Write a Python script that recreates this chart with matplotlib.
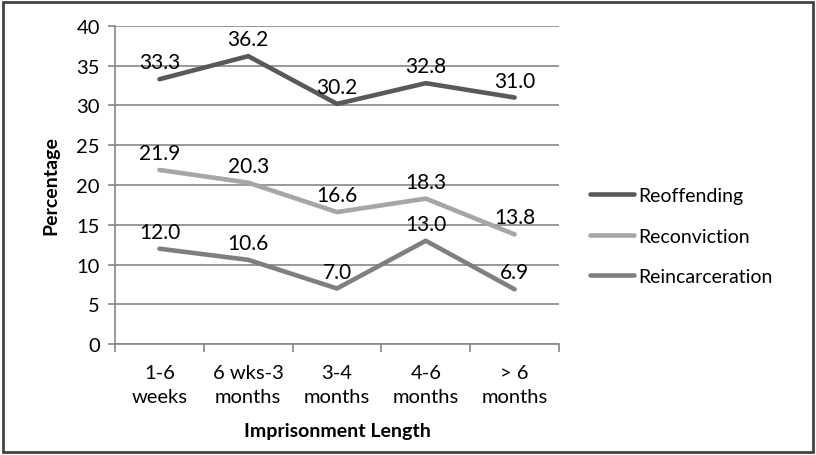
import matplotlib.pyplot as plt
import numpy as np

plt.rcParams['font.family'] = ['Lato', 'DejaVu Sans']

# imprisonment length categories
categories = ["1-6\nweeks", "6 wks-3\nmonths", "3-4\nmonths", "4-6\nmonths", "> 6\nmonths"]

# percentages per outcome
reoffending = [33.3, 36.2, 30.2, 32.8, 31.0]
reconviction = [21.9, 20.3, 16.6, 18.3, 13.8]
reincarceration = [12.0, 10.6, 7.0, 13.0, 6.9]

series = [
    ("Reoffending", reoffending, "#595959"),
    ("Reconviction", reconviction, "#a6a6a6"),
    ("Reincarceration", reincarceration, "#7f7f7f"),
]

fig = plt.figure(figsize=(8.16, 4.56), dpi=100)
ax = fig.add_axes([0.141, 0.243, 0.544, 0.698])

x = np.arange(len(categories))
for name, vals, col in series:
    ax.plot(x, vals, color=col, lw=3.3, label=name, solid_capstyle="round")
    for xi, v in zip(x, vals):
        ax.annotate(f"{v:.1f}", (xi, v), xytext=(0, 5), textcoords="offset points",
                    ha="center", va="bottom", fontsize=15, color="black")

ax.set_xlim(-0.5, len(categories) - 0.5)
ax.set_ylim(0, 40)
ax.set_yticks(range(0, 41, 5))
ax.set_xticks(np.arange(-0.5, len(categories), 1.0))
ax.set_xticklabels([])
ax.set_xticks(x, minor=True)
ax.set_xticklabels(categories, minor=True, fontsize=14.5, linespacing=1.55)
ax.tick_params(axis="x", which="minor", length=0, pad=14)
ax.tick_params(axis="x", which="major", length=6, color="#868686", width=1.2)
ax.tick_params(axis="y", length=5, color="#868686", width=1.2, labelsize=14.5, pad=6)
ax.grid(axis="y", color="#868686", lw=1.2)
ax.set_axisbelow(True)
for s in ["top", "right"]:
    ax.spines[s].set_visible(False)
for s in ["left", "bottom"]:
    ax.spines[s].set_color("#868686")
    ax.spines[s].set_linewidth(1.2)

ax.set_ylabel("Percentage", fontsize=14, fontweight="bold", labelpad=12)
ax.set_xlabel("Imprisonment Length", fontsize=14, fontweight="bold", labelpad=12)

fig.legend(*ax.get_legend_handles_labels(), loc="center left",
           bbox_to_anchor=(0.701, 0.48), frameon=False,
           fontsize=14, handlelength=2.3, handletextpad=0.2, labelspacing=1.2)

# outer border like the chart frame
fig.patches.append(plt.Rectangle((0.004, 0.006), 0.992, 0.988, transform=fig.transFigure,
                                 fill=False, ec="#444444", lw=2))

fig.savefig("out.png", dpi=100)
